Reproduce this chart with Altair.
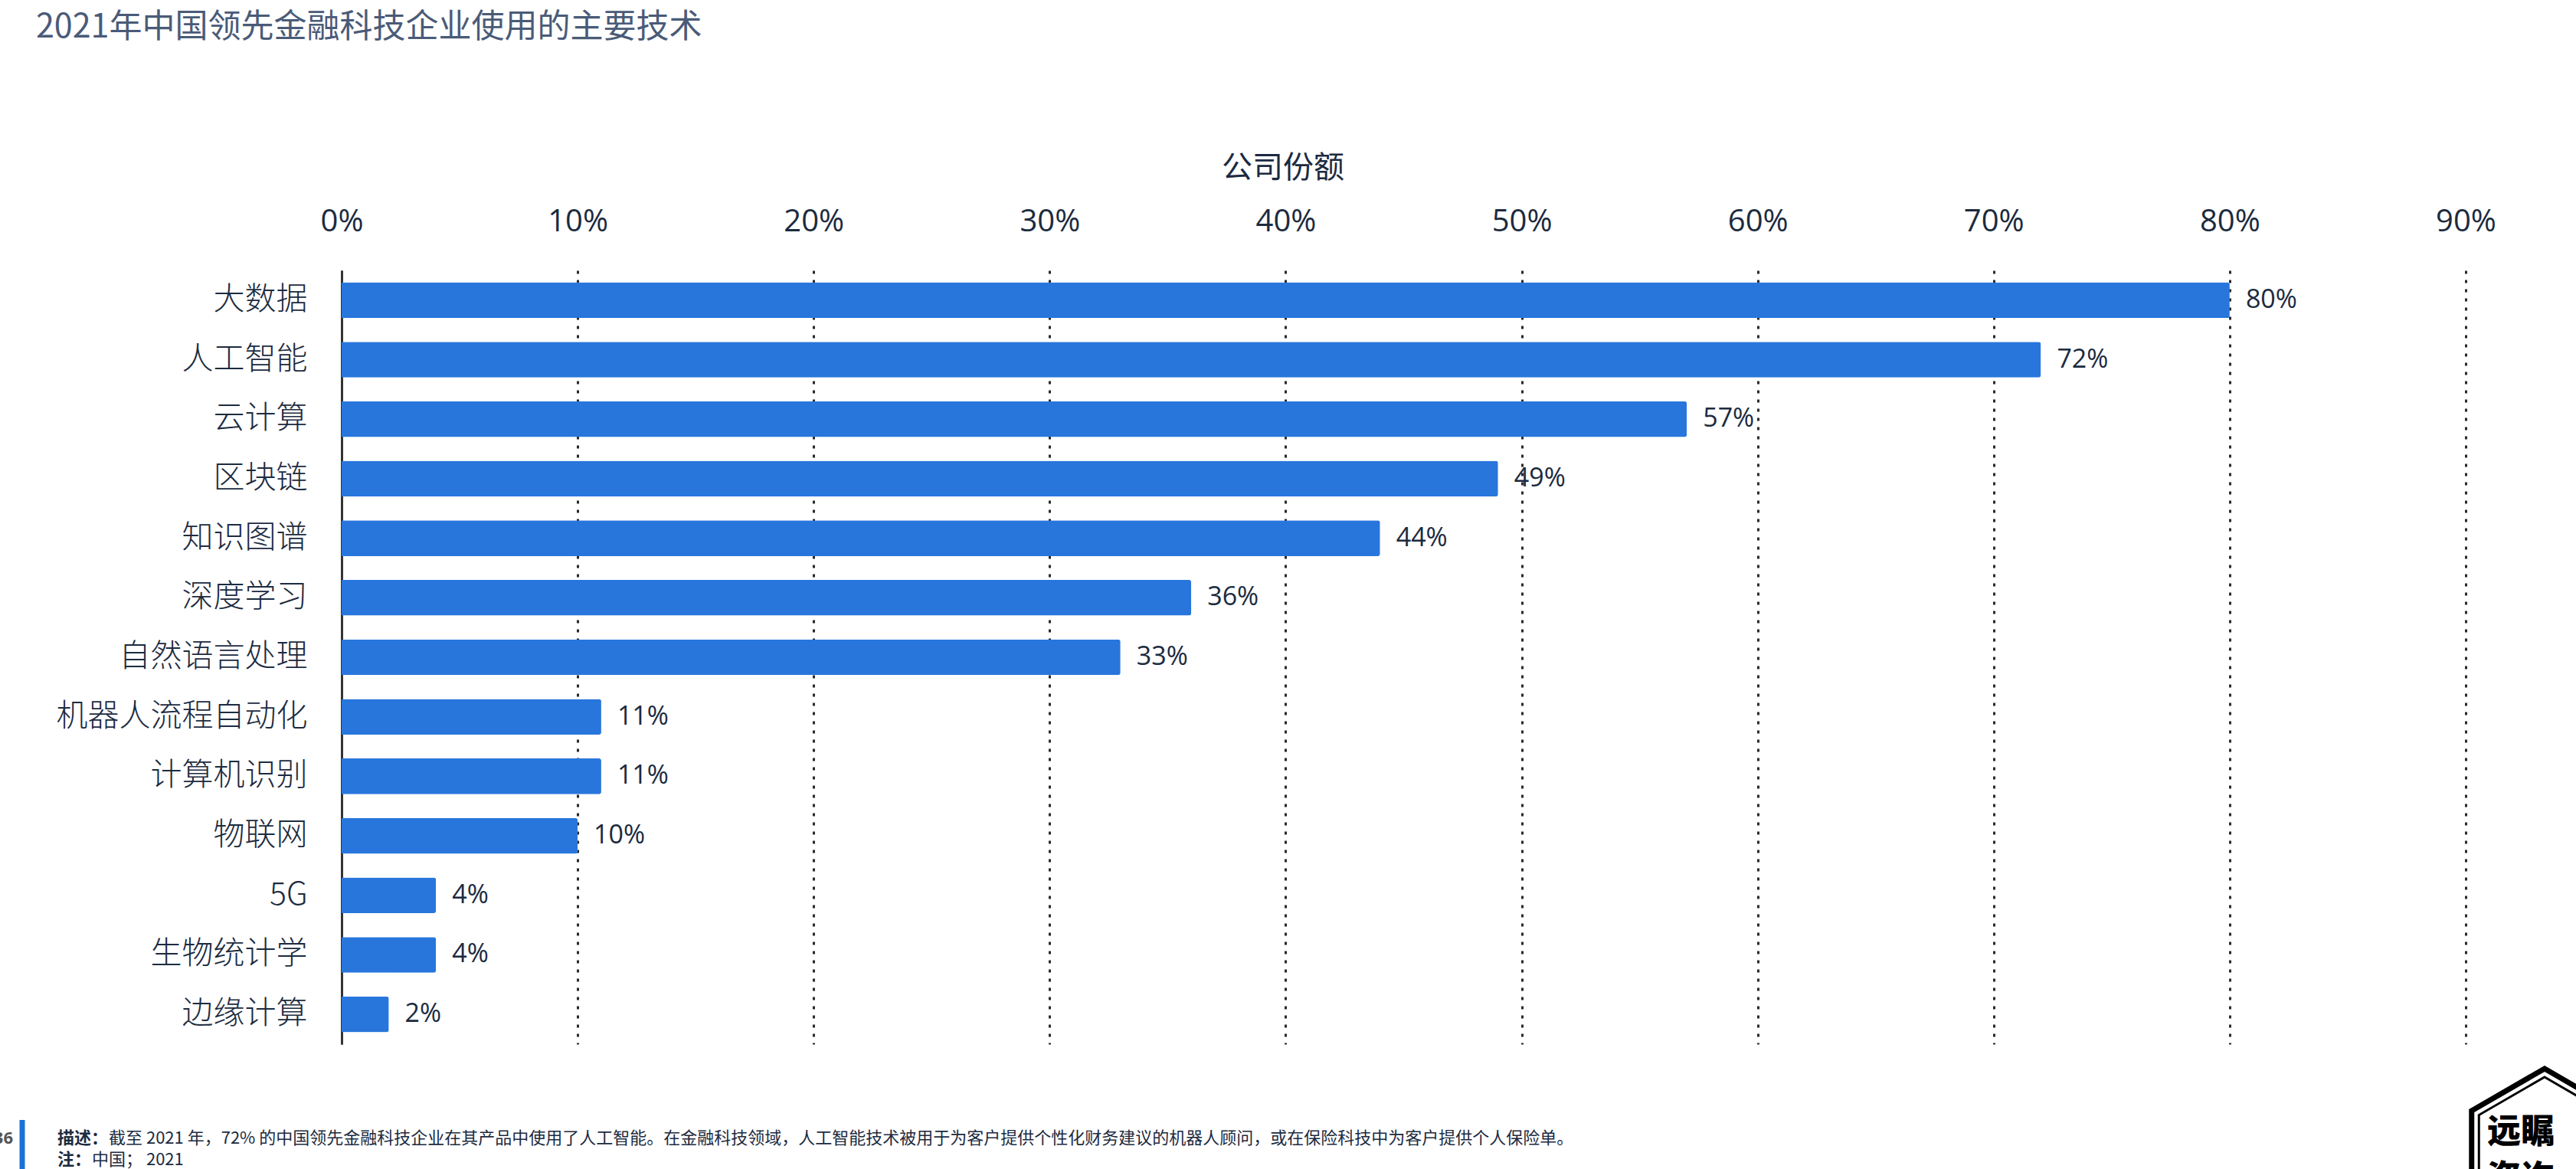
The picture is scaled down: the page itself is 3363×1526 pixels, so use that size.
import altair as alt
import pandas as pd

# Share of leading Chinese fintech companies using each technology (2021)
technologies = [
    "大数据", "人工智能", "云计算", "区块链", "知识图谱", "深度学习", "自然语言处理",
    "机器人流程自动化", "计算机识别", "物联网", "5G", "生物统计学", "边缘计算",
]
shares = [0.80, 0.72, 0.57, 0.49, 0.44, 0.36, 0.33, 0.11, 0.11, 0.10, 0.04, 0.04, 0.02]
axis_ticks = [0, 0.1, 0.2, 0.3, 0.4, 0.5, 0.6, 0.7, 0.8, 0.9]

chart_title = "2021年中国领先金融科技企业使用的主要技术"
x_title = "公司份额"
desc_head = "描述："
desc_body = ("截至 2021 年，72% 的中国领先金融科技企业在其产品中使用了人工智能。"
             "在金融科技领域，人工智能技术被用于为客户提供个性化财务建议的机器人顾问，"
             "或在保险科技中为客户提供个人保险单。")
note_head = "注："
note_body = "中国； 2021"
page_no = "36"
brand_top = "远瞩"
brand_bottom = "咨询"

NAVY = "#1c2b40"
BLUE = "#2876dc"
CJK = "Noto Sans CJK SC"
LATIN = "Open Sans"

W, H = 2773, 1010          # plot area
LEFT, TOP = 446, 353       # plot origin inside the canvas
CANVAS_W, CANVAS_H = 3363, 1526

df = pd.DataFrame({"技术": technologies, "份额": shares})

x_enc = alt.X(
    "份额:Q",
    scale=alt.Scale(domain=[0, 0.9], nice=False),
    axis=alt.Axis(
        orient="top", values=axis_ticks, format=".0%", title=None,
        labelFontSize=40, labelFont=LATIN, labelColor=NAVY, labelPadding=44,
        labelFlush=False, labelOverlap=False,
        ticks=False, tickSize=0, domain=False,
        grid=True, gridDash=[4, 8], gridColor="#2a2a2a", gridWidth=3,
    ),
)
y_enc = alt.Y(
    "技术:N",
    sort=technologies,
    scale=alt.Scale(paddingInner=0.4, paddingOuter=0.2),
    axis=alt.Axis(
        title=None, labelFontSize=41, labelFont=CJK, labelFontWeight=300,
        labelColor=NAVY, labelPadding=45, labelLimit=0,
        ticks=False, domain=True, domainColor="#333333", domainWidth=3, grid=False,
    ),
)

bars = alt.Chart(df).mark_bar(color=BLUE, cornerRadiusEnd=3).encode(x=x_enc, y=y_enc)

values = alt.Chart(df).mark_text(
    align="left", baseline="middle", dx=21, fontSize=34, font=LATIN, color=NAVY
).encode(
    x="份额:Q",
    y=alt.Y("技术:N", sort=technologies),
    text=alt.Text("份额:Q", format=".0%"),
)

single = pd.DataFrame({"k": [0]})


def label(text, px, py, **style):
    """Free text placed in canvas pixels."""
    return alt.Chart(single).mark_text(**style).encode(
        x=alt.value(px - LEFT), y=alt.value(py - TOP), text=alt.value(text)
    )


title = label(chart_title, 47, 36, align="left", baseline="middle",
              fontSize=43, font=CJK, color="#4a5b78")
xtitle = label(x_title, 1675, 220, align="center", baseline="middle",
               fontSize=40, font=CJK, color=NAVY)

foot = [
    label(page_no, 17, 1486, align="right", baseline="middle", fontSize=22,
          font=LATIN, fontWeight="bold", color="#555555"),
    label(desc_head, 75, 1486, align="left", baseline="middle", fontSize=22,
          font=CJK, fontWeight="bold", color=NAVY),
    label(desc_body, 142, 1486, align="left", baseline="middle", fontSize=22,
          font=CJK, color=NAVY),
    label(note_head, 75, 1514, align="left", baseline="middle", fontSize=22,
          font=CJK, fontWeight="bold", color=NAVY),
    label(note_body, 120, 1514, align="left", baseline="middle", fontSize=22,
          font=CJK, color=NAVY),
]

side_bar = alt.Chart(single).mark_rule(color="#1a72d6", strokeWidth=7).encode(
    x=alt.value(29 - LEFT), y=alt.value(1462 - TOP), y2=alt.value(CANVAS_H + 20 - TOP)
)

HEX = "M0,-1L0.866,-0.5L0.866,0.5L0,1L-0.866,0.5L-0.866,-0.5Z"
hex_outer = alt.Chart(single).mark_point(
    shape=HEX, filled=False, stroke="black", strokeWidth=7, size=220 ** 2, opacity=1
).encode(x=alt.value(3322 - LEFT), y=alt.value(1505 - TOP))
hex_inner = alt.Chart(single).mark_point(
    shape=HEX, filled=False, stroke="black", strokeWidth=3, size=198 ** 2, opacity=1
).encode(x=alt.value(3322 - LEFT), y=alt.value(1505 - TOP))
brand = [
    label(brand_top, 3291, 1479, align="center", baseline="middle", fontSize=44,
          font=CJK, fontWeight=900, color="black"),
    label(brand_bottom, 3291, 1540, align="center", baseline="middle", fontSize=44,
          font=CJK, fontWeight=900, color="black"),
]

chart = alt.layer(
    bars, values, title, xtitle, side_bar, hex_outer, hex_inner, *foot, *brand
).properties(
    width=W,
    height=H,
    padding={"left": LEFT, "top": TOP, "right": CANVAS_W - LEFT - W,
             "bottom": CANVAS_H - TOP - H},
    autosize=alt.AutoSizeParams(type="none"),
    background="white",
).configure_view(stroke=None)

chart.save("out.html", embed_options={"renderer": "svg", "actions": False})
